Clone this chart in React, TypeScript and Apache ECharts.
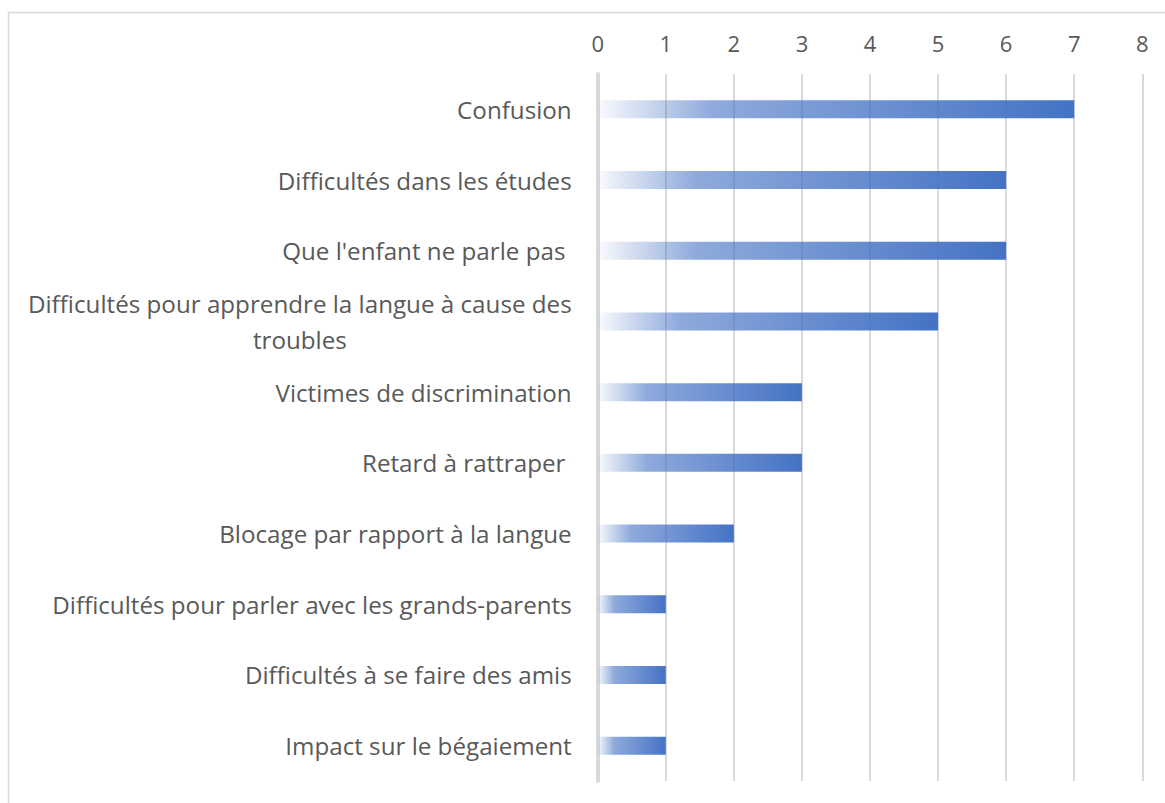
import React, { useEffect, useRef } from "react";
import * as echarts from "echarts";

const categories: string[] = [
  "Confusion",
  "Difficultés dans les études",
  "Que l'enfant ne parle pas ",
  "Difficultés pour apprendre la langue à cause des troubles",
  "Victimes de discrimination",
  "Retard à rattraper ",
  "Blocage par rapport à la langue",
  "Difficultés pour parler avec les grands-parents",
  "Difficultés à se faire des amis",
  "Impact sur le bégaiement",
];

const values: number[] = [7, 6, 6, 5, 3, 3, 2, 1, 1, 1];

const xTicks = { min: 0, max: 8, interval: 1 };

const FONT = "'Open Sans', 'Noto Sans', sans-serif";
const TEXT_COLOR = "#595959";
const GRID_COLOR = "#d9d9d9";
const CAT_SIZE = 24.2;

export default function App() {
  const ref = useRef<HTMLDivElement>(null);

  useEffect(() => {
    if (!ref.current) return;
    const chart = echarts.init(ref.current, null, { renderer: "svg" });
    const barColor = new echarts.graphic.LinearGradient(0, 0, 1, 0, [
      { offset: 0, color: "rgba(68,114,196,0.03)" },
      { offset: 0.24, color: "rgba(68,114,196,0.6)" },
      { offset: 1, color: "rgba(68,114,196,1)" },
    ]);
    chart.setOption({
      animation: false,
      backgroundColor: "#ffffff",
      graphic: [
        {
          type: "rect",
          shape: { x: 8.5, y: 12.5, width: 1300, height: 1000 },
          style: { fill: "none", stroke: GRID_COLOR, lineWidth: 1.5 },
          silent: true,
          z: -1,
        },
      ],
      grid: { left: 597.7, right: 22.7, top: 74, bottom: 22 },
      xAxis: {
        type: "value",
        position: "top",
        min: xTicks.min,
        max: xTicks.max,
        interval: xTicks.interval,
        axisLine: { show: false },
        axisTick: { show: false },
        axisLabel: {
          color: TEXT_COLOR,
          fontSize: 22,
          fontFamily: FONT,
          margin: 20,
        },
        splitLine: { show: true, lineStyle: { color: GRID_COLOR, width: 2 } },
      },
      yAxis: {
        type: "category",
        inverse: true,
        data: categories,
        axisLine: { show: true, lineStyle: { color: GRID_COLOR, width: 4 } },
        axisTick: { show: false },
        axisLabel: {
          color: TEXT_COLOR,
          fontSize: CAT_SIZE,
          fontFamily: FONT,
          margin: 26,
          lineHeight: 36,
          formatter: (v: string) => {
            const key = "à cause des ";
            const i = v.indexOf(key);
            if (i >= 0) {
              const first = v.slice(0, i + key.length - 1);
              const second = v.slice(i + key.length);
              return "{a|" + first + "}\n{c|" + second + "}";
            }
            return v;
          },
          rich: {
            a: { color: TEXT_COLOR, fontSize: CAT_SIZE, fontFamily: FONT, lineHeight: 36 },
            c: { color: TEXT_COLOR, fontSize: CAT_SIZE, fontFamily: FONT, lineHeight: 36, align: "center" },
          },
        },
      },
      series: [
        {
          type: "bar",
          data: values,
          barWidth: 18,
          itemStyle: { color: barColor },
        },
      ],
    });
    return () => chart.dispose();
  }, []);

  return (
    <div
      ref={ref}
      style={{ position: "fixed", left: 0, top: 0, width: 1165, height: 803 }}
    />
  );
}
